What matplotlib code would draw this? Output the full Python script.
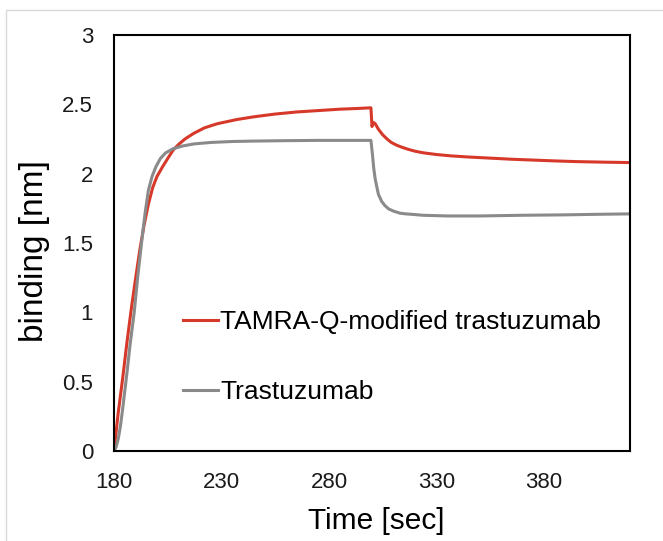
import matplotlib
matplotlib.use("Agg")
import matplotlib.pyplot as plt
from matplotlib.patches import Rectangle

# Data
t_red = [180, 181, 182, 184, 186, 188, 190, 192, 194, 196, 198, 200, 202.6, 205, 207.5, 210, 213,
         217, 222, 228, 237, 245, 255, 265, 275, 285, 293, 299.5,
         300.0, 300.6, 301.5, 303, 305, 307, 309, 311.5, 314, 317, 320, 324, 330, 337, 345, 355, 365, 375, 385, 395, 408, 420]
v_red = [0.0, 0.14, 0.28, 0.52, 0.78, 1.02, 1.24, 1.45, 1.63, 1.78, 1.90, 1.98, 2.05, 2.11, 2.17, 2.21, 2.25,
         2.29, 2.33, 2.36, 2.39, 2.41, 2.43, 2.445, 2.455, 2.465, 2.47, 2.475,
         2.34, 2.37, 2.36, 2.32, 2.28, 2.25, 2.225, 2.205, 2.19, 2.175, 2.162, 2.15, 2.138, 2.128, 2.12, 2.112, 2.104, 2.098, 2.092, 2.087, 2.083, 2.08]

t_gray = [180, 181, 182, 183, 184, 185, 186, 187.5, 189.4, 191, 192.8, 194.5, 196, 197.7, 199.5, 201.6,
          204, 207.5, 212, 217.4, 225, 235, 245, 260, 275, 290, 299.5,
          300.2, 300.8, 301.5, 302.3, 303, 304.5, 306, 307.8, 310, 313, 315.7, 320, 323.6, 335, 350, 370, 390, 405, 420]
v_gray = [0.0, 0.03, 0.09, 0.18, 0.30, 0.43, 0.56, 0.77, 1.00, 1.25, 1.50, 1.72, 1.88, 1.98, 2.05, 2.11,
          2.15, 2.18, 2.20, 2.215, 2.225, 2.232, 2.235, 2.238, 2.24, 2.24, 2.24,
          2.14, 2.04, 1.96, 1.90, 1.85, 1.80, 1.77, 1.745, 1.73, 1.715, 1.71, 1.705, 1.70, 1.695, 1.695, 1.70, 1.703, 1.707, 1.71]

labels = ["TAMRA-Q-modified trastuzumab", "Trastuzumab"]
x_ticks = [180, 230, 280, 330, 380]
y_ticks = [0, 0.5, 1, 1.5, 2, 2.5, 3]
y_tick_labels = ['0', '0.5', '1', '1.5', '2', '2.5', '3']

plt.rcParams['font.family'] = ['Liberation Sans', 'DejaVu Sans']

fig = plt.figure(figsize=(6.63, 5.41), dpi=100)
fig.patch.set_facecolor('white')
# light grey outer frame of the chart area
fig.patches.append(Rectangle((6/663, -0.1), 1.2, 1 - 10/541 + 0.1, transform=fig.transFigure,
                             fill=False, edgecolor='#d9d9d9', linewidth=1.0))

ax = fig.add_axes([114/663, 1 - 451/541, (630 - 114)/663, (451 - 35)/541])
red = '#d6392a'
gray = '#8a8a8a'
ax.plot(t_red, v_red, color=red, lw=2.2, label=labels[0], solid_joinstyle='round')
ax.plot(t_gray, v_gray, color=gray, lw=2.2, label=labels[1], solid_joinstyle='round')

ax.set_xlim(180, 420)
ax.set_ylim(0, 3)
ax.set_xticks(x_ticks)
ax.set_xticklabels([str(x) for x in x_ticks])
ax.set_yticks(y_ticks)
ax.set_yticklabels(y_tick_labels)
ax.tick_params(length=0, labelsize=16, colors='#1a1a1a')
ax.tick_params(axis='x', pad=15)
ax.tick_params(axis='y', pad=15)
for s in ax.spines.values():
    s.set_linewidth(1.5)
    s.set_color('black')

ax.set_xlabel('Time [sec]', fontsize=21.5)
ax.xaxis.set_label_coords(0.508, -0.168)
ax.xaxis.label.set_verticalalignment('center')
ax.set_ylabel('binding [nm]', fontsize=24)
ax.yaxis.set_label_coords(-0.154, 0.481)
ax.yaxis.label.set_verticalalignment('center')

leg = ax.legend(loc='upper left', bbox_to_anchor=(0.134, 0.338), frameon=False, fontsize=19,
                handlelength=1.33, handletextpad=0.08, labelspacing=1.74, borderpad=0, borderaxespad=0)

fig.savefig('out.png', dpi=100)
